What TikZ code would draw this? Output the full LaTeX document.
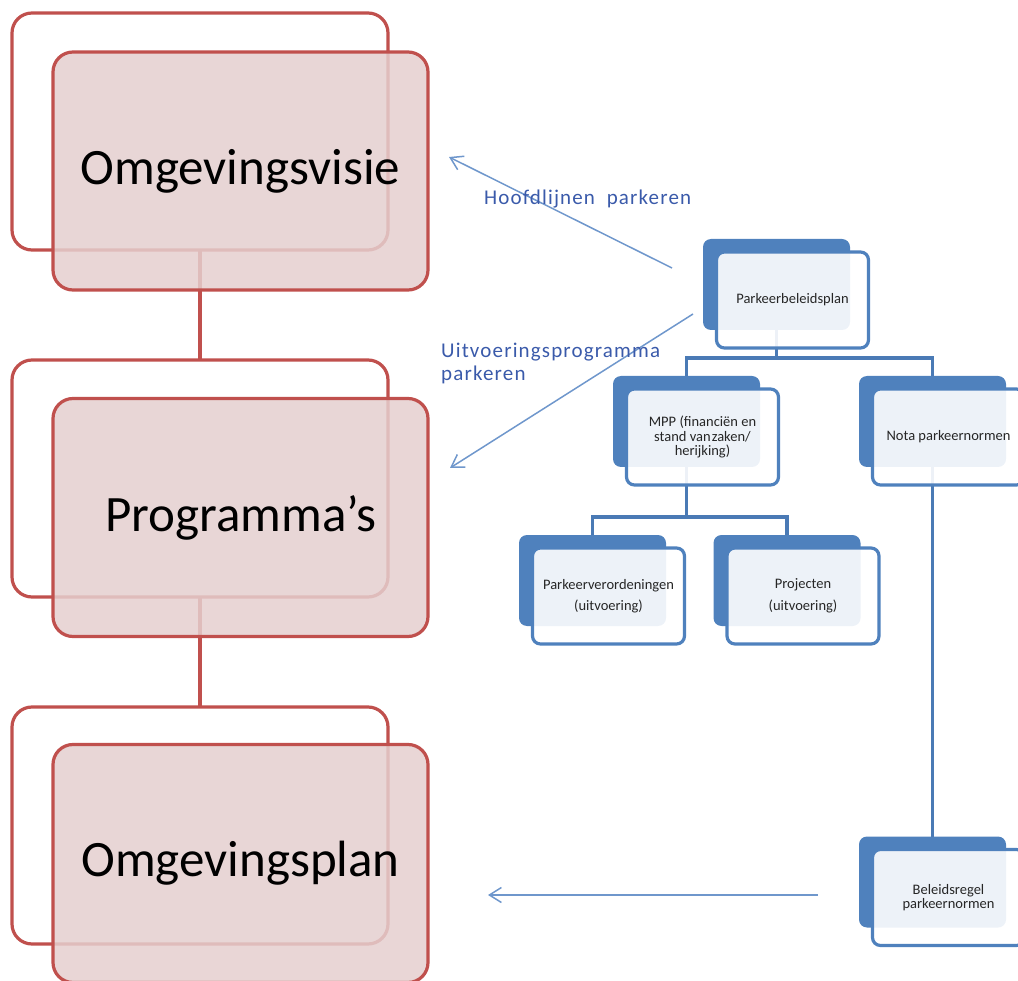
\documentclass[tikz,border=0pt]{standalone}
\usepackage{fontspec}
\setmainfont{Carlito}
\newfontfamily\labelfont[LetterSpace=5.5]{Carlito}
\usetikzlibrary{arrows.meta,calc,backgrounds}
\definecolor{redline}{HTML}{C0504D}
\definecolor{redfill}{RGB}{229,207,207}
\definecolor{blueacc}{HTML}{4F81BD}
\definecolor{treeline}{HTML}{4A7AB5}
\definecolor{arrowblue}{HTML}{6F97CC}
\definecolor{labelblue}{HTML}{3A5AAA}
\begin{document}
\begin{tikzpicture}[x=1pt,y=-1pt,
  redback/.style={draw=redline, line width=3.2pt, fill=white, rounded corners=20pt, minimum width=376pt, minimum height=237pt, inner sep=0pt, outer sep=0pt},
  redfront/.style={draw=redline, line width=3.2pt, fill=redfill, fill opacity=0.85, text opacity=1, rounded corners=20pt, minimum width=375pt, minimum height=238pt, inner sep=0pt, outer sep=0pt, font=\fontsize{51}{60}\selectfont},
  redlink/.style={draw=redline, line width=3.2pt},
  blueback/.style={fill=blueacc, rounded corners=8pt, minimum width=147pt, minimum height=91pt, inner sep=0pt, outer sep=0pt},
  bluefront/.style={draw=blueacc, line width=3.2pt, fill=white, fill opacity=0.9, text opacity=1, rounded corners=8pt, minimum width=152pt, minimum height=96pt, inner sep=0pt, outer sep=0pt, align=center, font=\fontsize{14.5}{14.5}\selectfont, text=black!85},
  treelink/.style={draw=treeline, line width=3.2pt},
  flowarrow/.style={draw=arrowblue, line width=1.5pt, -{Straight Barb[length=12pt,width=15pt]}},
  lbl/.style={text=labelblue, font=\labelfont\fontsize{21}{23}\selectfont, inner sep=0pt, align=left}
]
\useasboundingbox (0,0) rectangle (1018,981);

% red column
\node[redback] (r1back) at (200,131.5) {};
\node[redfront] (r1front) at (240.5,171) {Omgevingsvisie};
\node[redback] (r2back) at (200,478.5) {};
\node[redfront] (r2front) at (240.5,517.5) {Programma’s};
\node[redback] (r3back) at (200,825.5) {};
\node[redfront] (r3front) at (240.5,863.5) {Omgevingsplan};

% blue hierarchy
\node[blueback] (pbback) at (776.5,284.5) {};
\node[bluefront] (pbfront) at (792.5,300) {Parkeerbeleidsplan};
\node[blueback] (mppback) at (686.5,421.5) {};
\node[bluefront] (mppfront) at (702.5,437) {MPP (financiën en\\stand van\hspace{1pt}zaken/\\herijking)};
\node[blueback] (notaback) at (932.5,421.5) {};
\node[bluefront] (notafront) at (948.5,437) {Nota parkeernormen};
\node[blueback] (pvback) at (592.5,580.5) {};
\node[bluefront] (pvfront) at (608.5,596) {Parkeerverordeningen\\[7pt](uitvoering)};
\node[blueback] (projback) at (787,580.5) {};
\node[bluefront] (projfront) at (803,596) {Projecten\\[7pt](uitvoering)};
\node[blueback] (brback) at (932.5,882) {};
\node[bluefront] (brfront) at (948.5,897.5) {Beleidsregel\\parkeernormen};

% connectors behind boxes
\begin{scope}[on background layer]
  \draw[redlink] (r1back) -- (r2back);
  \draw[redlink] (r2back) -- (r3back);
  \coordinate (j1) at ($(pbback.south)+(0,28)$);
  \draw[treelink] (pbback.south) -- (j1) -| (mppback.north);
  \draw[treelink] (j1) -| (notaback.north);
  \coordinate (j2) at ($(mppback.south)+(0,50)$);
  \draw[treelink] (mppback.south) -- (j2) -| (pvback.north);
  \draw[treelink] (j2) -| (projback.north);
  \draw[treelink] (notaback.south) -- (brback.north);
\end{scope}

% arrows
\coordinate (a1s) at (672,268);
\coordinate (a1e) at (449,157);
\coordinate (a2s) at (693,314);
\coordinate (a2e) at (450,468);
\coordinate (a3s) at (818,895);
\coordinate (a3e) at (488,895);
\draw[flowarrow] (a1s) -- (a1e);
\draw[flowarrow] (a2s) -- (a2e);
\draw[flowarrow] (a3s) -- (a3e);

% labels
\node[lbl, anchor=base west] (lab1) at (484,205) {Hoofdlijnen\ \ parkeren};
\node[lbl, anchor=base west] (lab2) at (441,381) {Uitvoeringsprogramma\\parkeren};
\end{tikzpicture}
\end{document}
